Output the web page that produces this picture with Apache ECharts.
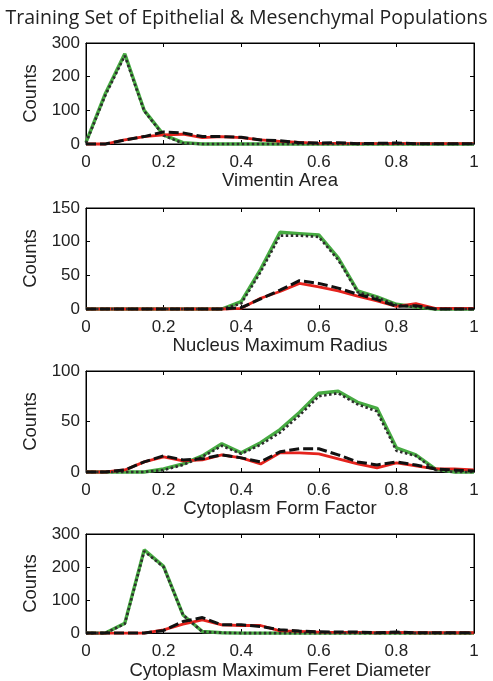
<!DOCTYPE html>
<html>
<head>
<meta charset="utf-8">
<script src="https://cdn.jsdelivr.net/npm/echarts@6/dist/echarts.min.js"></script>
<style>html,body{margin:0;padding:0;background:#fff}#c{width:493px;height:681px}</style>
</head>
<body>
<div id="c"></div>
<script>
// x bin centres
const xs = [0,0.05,0.1,0.15,0.2,0.25,0.3,0.35,0.4,0.45,0.5,0.55,0.6,0.65,0.7,0.75,0.8,0.85,0.9,0.95,1];
const xTicks = ['0','0.2','0.4','0.6','0.8','1'];
const title = 'Training Set of Epithelial & Mesenchymal Populations';
const panelNames = ['Vimentin Area','Nucleus Maximum Radius','Cytoplasm Form Factor','Cytoplasm Maximum Feret Diameter'];
const yMax = [300,150,100,300];
const yStep = [100,50,50,100];

// Panel 1: Vimentin Area
const vimEpi      = [5,150,268,100,27,4,0,0,0,0,0,0,0,0,0,0,0,0,0,0,0];
const vimEpiFit   = [3,145,262,98,25,2,0,0,0,0,0,0,0,0,0,0,0,0,0,0,0];
const vimMes      = [0,0,12,22,27,29,19,22,19,12,8,5,2,2,1,1,2,1,1,1,1];
const vimMesFit   = [0,0,12,22,36,33,22,22,20,12,10,4,3,4,1,2,3,1,1,1,1];
// Panel 2: Nucleus Maximum Radius
const nucEpi      = [0,0,0,0,0,0,0,0,11,59,114,112,110,76,27,18,7,3,0,0,0];
const nucEpiFit   = [0,0,0,0,0,0,0,0,8,55,109,109,107,73,25,17,6,3,0,0,0];
const nucMes      = [0,0,0,0,0,0,0,0,1,16,26,38,33,27,19,12,4,8,1,1,1];
const nucMesFit   = [0,0,0,0,0,0,0,0,2,15,28,42,38,31,22,14,4,5,0,0,0];
// Panel 3: Cytoplasm Form Factor
const ffEpi       = [0,0,0,0,3,8,16,28,19,29,42,59,78,80,69,63,24,17,3,0,0];
const ffEpiFit    = [0,0,0,0,2,7,15,26,18,27,39,56,75,78,67,60,21,16,2,0,0];
const ffMes       = [0,0,2,10,15,11,12,17,14,8,19,19,18,13,8,4,9,6,3,3,2];
const ffMesFit    = [0,0,2,10,16,12,13,17,14,10,20,23,23,17,10,7,10,7,3,2,1];
// Panel 4: Cytoplasm Maximum Feret Diameter
const ferEpi      = [0,0,30,252,202,55,5,1,0,0,0,0,0,0,0,0,0,0,0,0,0];
const ferEpiFit   = [0,0,28,248,200,55,4,1,0,0,0,0,0,0,0,0,0,0,0,0,0];
const ferMes      = [0,0,0,0,10,27,40,25,23,23,7,5,3,2,2,1,2,1,1,1,1];
const ferMesFit   = [0,0,0,0,8,35,47,25,25,20,10,6,4,3,3,1,3,1,1,1,1];

const panels = [
  [vimEpi, vimEpiFit, vimMes, vimMesFit],
  [nucEpi, nucEpiFit, nucMes, nucMesFit],
  [ffEpi, ffEpiFit, ffMes, ffMesFit],
  [ferEpi, ferEpiFit, ferMes, ferMesFit]
];

const tops = [43,208,371,534];
const gridH = 101;
const tickFont = {fontFamily:'Liberation Sans', fontSize:17, color:'#222'};
const nameFont = {fontFamily:'Liberation Sans', fontSize:18.5, color:'#222'};
const grids = [], xAxes = [], yAxes = [], series = [];

function pair(arr){ return xs.map((x,i)=>[x,arr[i]]); }

panels.forEach((p, k) => {
  grids.push({left:86, right:19, top:tops[k], height:gridH, show:true, borderColor:'#000', borderWidth:1, containLabel:false});
  const lineStyle = {color:'#000', width:1};
  xAxes.push({
    type:'value', gridIndex:k, min:0, max:1, interval:0.2, position:'bottom',
    name:panelNames[k], nameLocation:'middle', nameGap:26,
    nameTextStyle:nameFont,
    axisLine:{show:true, onZero:false, lineStyle},
    axisTick:{show:true, inside:true, length:4, lineStyle},
    axisLabel:Object.assign({margin:10, formatter:v=>xTicks[Math.round(v/0.2)]}, tickFont),
    splitLine:{show:false}
  });
  xAxes.push({
    type:'value', gridIndex:k, min:0, max:1, interval:0.2, position:'top',
    axisLine:{show:true, onZero:false, lineStyle},
    axisTick:{show:true, inside:true, length:4, lineStyle},
    axisLabel:{show:false}, splitLine:{show:false}
  });
  yAxes.push({
    type:'value', gridIndex:k, min:0, max:yMax[k], interval:yStep[k], position:'left',
    name:'Counts', nameLocation:'middle', nameGap:39,
    nameTextStyle:nameFont,
    axisLine:{show:true, onZero:false, lineStyle},
    axisTick:{show:true, inside:true, length:4, lineStyle},
    axisLabel:Object.assign({margin:6}, tickFont),
    splitLine:{show:false}
  });
  yAxes.push({
    type:'value', gridIndex:k, min:0, max:yMax[k], interval:yStep[k], position:'right',
    axisLine:{show:true, onZero:false, lineStyle},
    axisTick:{show:true, inside:true, length:4, lineStyle},
    axisLabel:{show:false}, splitLine:{show:false}
  });
  const xi = 2*k, yi = 2*k;
  const base = {type:'line', xAxisIndex:xi, yAxisIndex:yi, symbol:'none', silent:true, animation:false, clip:false};
  series.push(Object.assign({}, base, {name:'Epithelial', data:pair(p[0]), lineStyle:{color:'#47ab42', width:3.4}, z:2}));
  series.push(Object.assign({}, base, {name:'Mesenchymal', data:pair(p[2]), lineStyle:{color:'#e5231d', width:2.8}, z:2}));
  series.push(Object.assign({}, base, {name:'Epithelial fit', data:pair(p[1]), lineStyle:{color:'#2e2e2e', width:2.6, type:[2.5,2.5]}, z:3}));
  series.push(Object.assign({}, base, {name:'Mesenchymal fit', data:pair(p[3]), lineStyle:{color:'#111', width:3, type:[10,4]}, z:3}));
});

const chart = echarts.init(document.getElementById('c'), null, {renderer:'canvas'});
chart.setOption({
  animation:false,
  backgroundColor:'#fff',
  title:{text:title, left:'center', top:3, textStyle:{fontFamily:'Open Sans', fontSize:19.5, fontWeight:'normal', color:'#222'}},
  grid:grids, xAxis:xAxes, yAxis:yAxes, series:series
});
</script>
</body>
</html>
